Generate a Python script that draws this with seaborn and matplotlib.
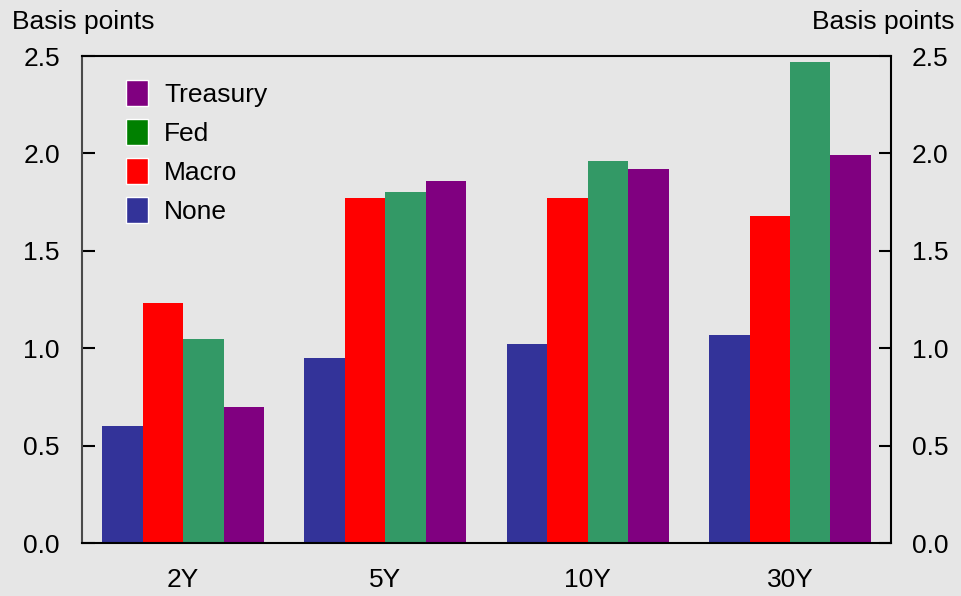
import pandas as pd
import matplotlib.pyplot as plt
import matplotlib.patches as mpatches
import seaborn as sns

maturities = ['2Y', '5Y', '10Y', '30Y']
none_vals = [0.60, 0.95, 1.02, 1.07]
macro_vals = [1.23, 1.77, 1.77, 1.68]
fed_vals = [1.05, 1.80, 1.96, 2.47]
treasury_vals = [0.70, 1.86, 1.92, 1.99]

series = ['None', 'Macro', 'Fed', 'Treasury']
bar_colors = {'None': '#333399', 'Macro': '#ff0000', 'Fed': '#339966', 'Treasury': '#800080'}
legend_colors = {'None': '#333399', 'Macro': '#ff0000', 'Fed': '#008000', 'Treasury': '#800080'}

df = pd.DataFrame({
    'maturity': maturities * 4,
    'series': [s for s in series for _ in maturities],
    'value': none_vals + macro_vals + fed_vals + treasury_vals,
})

sns.set_style('white')
plt.rcParams['font.family'] = ['Liberation Sans', 'DejaVu Sans']
plt.rcParams['text.color'] = 'black'
plt.rcParams['xtick.color'] = 'black'
plt.rcParams['ytick.color'] = 'black'
plt.rcParams['xtick.labelcolor'] = 'black'
plt.rcParams['ytick.labelcolor'] = 'black'
bg = '#e6e6e6'
fs = 19

fig = plt.figure(figsize=(9.61, 5.96), dpi=100, facecolor=bg)
ax = fig.add_axes([0.0853, 0.0889, 0.842, 0.817])
ax.set_facecolor(bg)

sns.barplot(data=df, x='maturity', y='value', hue='series', order=maturities,
            hue_order=series, palette=bar_colors, width=0.8, saturation=1,
            edgecolor='none', linewidth=0, legend=False, ax=ax)

yticks = [0, 0.5, 1.0, 1.5, 2.0, 2.5]
ylabels = ['0.0', '0.5', '1.0', '1.5', '2.0', '2.5']
ax.set_xlim(-0.5, 3.5)
ax.set_ylim(0, 2.5)
ax.set_yticks(yticks)
ax.set_yticklabels(ylabels)
ax.set_xlabel('')
ax.set_ylabel('')
ax.tick_params(axis='y', direction='in', length=9, width=1.5, labelsize=fs, pad=16)
ax.tick_params(axis='x', which='major', length=0, labelsize=fs, pad=18)
ax.set_xticks([0.5, 1.5, 2.5], minor=True)
ax.tick_params(axis='x', which='minor', direction='in', length=9, width=1.5)
for sp in ax.spines.values():
    sp.set_visible(True)
    sp.set_linewidth(1.5)
    sp.set_color('black')
ax.spines['left'].set_color('#4a4a4a')

ax2 = ax.twinx()
ax2.set_ylim(0, 2.5)
ax2.set_yticks(yticks)
ax2.set_yticklabels(ylabels)
ax2.tick_params(axis='y', direction='in', length=9, width=1.5, labelsize=fs, pad=15)
for sp in ax2.spines.values():
    sp.set_visible(False)

handles = [mpatches.Patch(facecolor=legend_colors[s], label=s) for s in series[::-1]]
ax.legend(handles=handles, loc='upper left', bbox_to_anchor=(0.025, 1.0), frameon=False,
          fontsize=fs, handlelength=0.85, handleheight=1.15, labelspacing=0.45, handletextpad=0.6)

fig.text(12 / 961, 1 - 22 / 596, 'Basis points', fontsize=fs, ha='left', va='center')
fig.text(955 / 961, 1 - 22 / 596, 'Basis points', fontsize=fs, ha='right', va='center')

fig.savefig('out.png', dpi=100, facecolor=bg)
